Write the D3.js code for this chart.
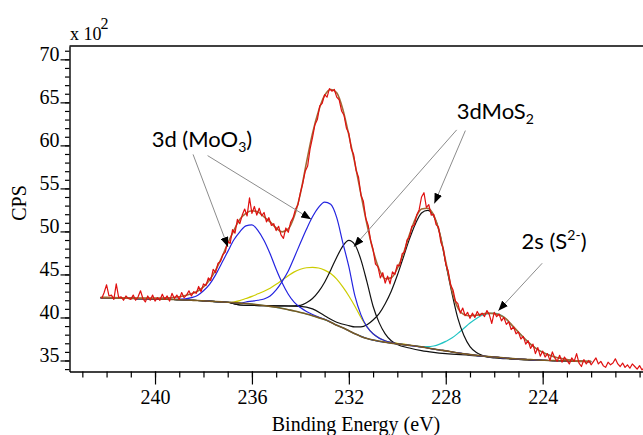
<!DOCTYPE html>
<html>
<head>
<meta charset="utf-8">
<script src="https://cdn.jsdelivr.net/npm/d3@7"></script>
<style>
  body { margin: 0; background: #fff; }
  svg { display: block; }
</style>
</head>
<body>
<svg id="chart" width="643" height="435"></svg>
<script>
// Mo 3d / S 2s XPS region, counts in units of 10^2 CPS

// Raw spectrum: first energy and step (eV), then counts
const rawStart = 242.2;
const rawStep = 0.1;
const rawCounts = [
  42.2, 42.9, 43.8, 42.5, 42.6, 42.1, 43.9, 42.3, 42.4, 42.0,
  42.5, 42.2, 42.1, 42.6, 42.0, 42.4, 43.1, 42.2, 41.8, 42.5,
  42.0, 42.6, 41.9, 42.3, 42.0, 42.7, 42.1, 42.5, 41.9, 42.8,
  42.2, 42.6, 42.1, 42.9, 42.3, 42.6, 43.1, 42.5, 43.0, 42.8,
  43.6, 43.0, 43.9, 43.7, 44.6, 44.3, 45.6, 45.2, 46.3, 46.5,
  47.3, 47.6, 48.9, 48.6, 50.2, 49.8, 51.4, 50.9, 51.9, 52.6,
  51.8, 53.9, 52.1, 52.9, 51.9, 52.7, 51.8, 52.2, 51.1, 51.6,
  50.7, 50.9, 50.1, 50.6, 49.6, 49.2, 50.4, 49.9, 51.1, 51.6,
  52.6, 53.1, 54.5, 55.6, 57.0, 57.6, 59.6, 60.9, 62.4, 63.0,
  64.6, 64.9, 65.9, 65.6, 66.6, 66.3, 66.5, 65.6, 65.3, 64.0,
  63.5, 62.0, 61.4, 59.6, 58.9, 57.1, 56.3, 54.2, 53.5, 51.5,
  50.7, 48.9, 47.9, 46.2, 45.9, 44.6, 45.2, 44.0, 44.8, 43.9,
  45.3, 45.0, 46.1, 46.0, 47.4, 47.6, 49.0, 49.3, 50.6, 50.7,
  51.9, 52.5, 54.0, 54.5, 52.8, 53.1, 51.9, 52.0, 50.8, 50.5,
  48.7, 48.0, 46.2, 45.4, 43.8, 43.2, 41.9, 41.6, 40.5, 41.1,
  40.2, 40.6, 39.9, 40.5, 40.0, 40.7, 40.2, 40.5, 40.1, 40.8,
  40.3, 39.3, 40.6, 40.1, 40.4, 39.6, 40.0, 39.2, 39.5, 38.6,
  38.9, 38.1, 38.3, 37.5, 37.8, 36.9, 37.3, 36.4, 36.9, 35.8,
  36.5, 35.5, 36.1, 35.4, 35.8, 35.0, 36.0, 35.3, 34.9, 35.6,
  34.8, 35.4, 35.0, 34.6, 35.3, 34.9, 35.8, 34.7, 34.3, 35.1,
  34.6, 35.0, 34.5, 34.9, 35.3, 34.6, 34.9, 34.4, 34.2, 34.8,
  34.5, 34.7, 35.2, 34.6, 34.3, 34.7, 34.2, 34.5, 34.1, 34.6,
  34.3, 34.0, 34.4, 33.9, 34.2
];

// Fit grid (eV) shared by the background and the envelope
const fitEnergy = d3.range(242.25, 221.99, -0.25);

// Shirley-type background
const background = [
  42.30, 42.28, 42.26, 42.25, 42.23, 42.22, 42.20, 42.19, 42.17, 42.15,
  42.13, 42.11, 42.09, 42.06, 42.03, 42.00, 41.97, 41.93, 41.89, 41.85,
  41.81, 41.77, 41.72, 41.67, 41.62, 41.56, 41.48, 41.39, 41.29, 41.18,
  41.05, 40.90, 40.75, 40.58, 40.40, 40.20, 39.98, 39.75, 39.45, 39.10,
  38.80, 38.45, 38.10, 37.80, 37.55, 37.37, 37.23, 37.12, 37.02, 36.93,
  36.84, 36.76, 36.68, 36.58, 36.45, 36.33, 36.22, 36.12, 36.00, 35.88,
  35.77, 35.68, 35.60, 35.52, 35.45, 35.40, 35.34, 35.28, 35.22, 35.17,
  35.13, 35.10, 35.06, 35.03, 35.00, 34.98, 34.97, 34.95, 34.93, 34.90,
  34.88, 34.87
];

// Fit envelope
const envelope = [
  42.35, 42.33, 42.31, 42.29, 42.28, 42.27, 42.26, 42.25, 42.25, 42.25,
  42.26, 42.28, 42.32, 42.40, 42.55, 42.75, 43.05, 43.55, 44.35, 45.50,
  46.95, 48.60, 50.10, 51.40, 52.10, 52.40, 52.25, 51.70, 51.10, 50.40,
  49.95, 50.30, 51.80, 54.40, 58.00, 61.40, 64.00, 65.80, 66.50, 66.10,
  64.20, 61.20, 57.90, 54.30, 50.80, 47.80, 45.60, 44.50, 44.60, 45.70,
  47.40, 49.60, 51.50, 52.60, 52.70, 51.90, 49.80, 46.50, 43.20, 41.10,
  40.35, 40.20, 40.25, 40.40, 40.50, 40.45, 40.25, 39.80, 39.05, 38.30,
  37.55, 36.90, 36.35, 35.95, 35.65, 35.40, 35.25, 35.10, 35.00, 34.95,
  34.92, 34.90
];

// Component curves [eV, counts] where they leave the background
const moO3Upper = [
  [239.0, 42.12], [238.75, 42.15], [238.5, 42.3], [238.25, 42.55], [238.0, 43.1],
  [237.75, 43.85], [237.5, 44.95], [237.25, 46.3], [237.0, 47.65], [236.75, 49.0],
  [236.5, 49.95], [236.25, 50.65], [236.0, 50.75], [235.75, 50.1], [235.5, 48.95],
  [235.25, 47.4], [235.0, 45.6], [234.75, 44.0], [234.5, 42.7], [234.25, 41.75],
  [234.0, 41.15], [233.75, 40.7], [233.5, 40.35], [233.25, 40.05], [233.0, 39.8]
];
const moO3Lower = [
  [236.25, 41.8], [236.0, 41.9], [235.75, 42.0], [235.5, 42.15], [235.25, 42.5],
  [235.0, 43.2], [234.75, 44.2], [234.5, 45.4], [234.25, 47.0], [234.0, 48.65],
  [233.75, 50.25], [233.5, 51.7], [233.25, 52.8], [233.0, 53.4], [232.75, 53.15],
  [232.5, 51.6], [232.25, 48.7], [232.0, 45.9], [231.75, 42.5], [231.5, 40.3],
  [231.25, 38.9], [231.0, 38.1], [230.75, 37.6], [230.5, 37.3], [230.25, 37.1]
];
const midState = [
  [236.75, 41.8], [236.5, 41.95], [236.25, 42.2], [236.0, 42.45], [235.75, 42.75],
  [235.5, 43.05], [235.25, 43.4], [235.0, 43.85], [234.75, 44.35], [234.5, 44.85],
  [234.25, 45.3], [234.0, 45.6], [233.75, 45.78], [233.5, 45.82], [233.25, 45.75],
  [233.0, 45.5], [232.75, 45.1], [232.5, 44.45], [232.25, 43.55], [232.0, 42.5],
  [231.75, 41.3], [231.5, 40.0], [231.25, 38.9], [231.0, 38.1], [230.75, 37.6],
  [230.5, 37.3], [230.25, 37.12], [230.0, 37.0], [229.75, 36.9], [229.5, 36.8]
];
const moS2Upper = [
  [236.75, 41.6], [236.5, 41.45], [236.0, 41.4], [235.5, 41.38], [235.0, 41.35],
  [234.5, 41.33], [234.0, 41.4], [233.75, 41.7], [233.5, 42.2], [233.25, 43.0],
  [233.0, 44.1], [232.75, 45.5], [232.5, 47.0], [232.25, 48.3], [232.0, 48.95],
  [231.75, 48.45], [231.5, 46.7], [231.25, 44.1], [231.0, 41.3], [230.75, 39.4],
  [230.5, 38.1], [230.25, 37.3], [230.0, 36.85], [229.5, 36.45], [229.0, 36.15],
  [228.5, 35.95], [228.0, 35.8], [227.0, 35.6], [226.0, 35.38], [225.0, 35.17]
];
const moS2Lower = [
  [236.75, 41.6], [236.5, 41.45], [236.0, 41.4], [235.0, 41.35], [234.0, 41.3],
  [233.5, 41.0], [233.0, 40.2], [232.5, 39.45], [232.0, 39.05], [231.75, 38.9],
  [231.5, 38.9], [231.25, 39.15], [231.0, 39.7], [230.75, 40.45], [230.5, 41.6],
  [230.25, 43.05], [230.0, 44.9], [229.75, 47.0], [229.5, 49.1], [229.25, 50.9],
  [229.0, 52.15], [228.75, 52.45], [228.5, 51.8], [228.25, 49.8], [228.0, 46.3],
  [227.75, 42.9], [227.5, 39.9], [227.25, 37.9], [227.0, 36.6], [226.75, 35.95],
  [226.5, 35.6], [226.25, 35.4], [226.0, 35.3], [225.5, 35.2], [225.0, 35.12],
  [224.0, 35.0]
];
const sulfur2s = [
  [229.5, 36.77], [229.0, 36.62], [228.75, 36.6], [228.5, 36.68], [228.25, 36.9],
  [228.0, 37.22], [227.75, 37.6], [227.5, 38.15], [227.25, 38.75], [227.0, 39.35],
  [226.75, 39.85], [226.5, 40.25], [226.25, 40.45], [226.0, 40.5], [225.75, 40.3],
  [225.5, 39.8], [225.25, 39.0], [225.0, 38.3], [224.75, 37.55], [224.5, 36.9],
  [224.25, 36.35], [224.0, 35.95], [223.75, 35.65], [223.5, 35.4], [223.25, 35.25],
  [223.0, 35.1], [222.75, 35.0], [222.5, 34.95], [222.25, 34.9], [222.0, 34.88]
];

// Axis ticks
const xMajorTicks = [240, 236, 232, 228, 224];
const xMinorTicks = d3.range(220, 244, 1);
const yMajorTicks = [35, 40, 45, 50, 55, 60, 65, 70];
const yMinorTicks = d3.range(34, 72, 1);

// Peak labels: text position and leader arrow tips, in (eV, counts)
const labels = [
  { parts: [["3d (MoO", 0], ["3", 1], [")", 0]], at: [240.14, 59.77],
    leaders: [[[238.43, 58.95], [236.99, 48.2]], [[237.83, 58.81], [233.56, 51.42]]] },
  { parts: [["3dMoS", 0], ["2", 1]], at: [227.55, 63.08],
    leaders: [[[227.55, 61.8], [231.79, 48.23]], [[227.19, 61.72], [228.47, 53.25]]] },
  { parts: [["2s (S", 0], ["2-", 2], [")", 0]], at: [224.87, 48.0],
    leaders: [[[224.02, 46.3], [225.83, 40.79]]] }
];

const svg = d3.select("#chart");
const plot = { left: 69.5, top: 46, right: 650, bottom: 371.5 };

const x = d3.scaleLinear().domain([243.53, 219.57]).range([plot.left, plot.right]);
const y = d3.scaleLinear().domain([33.72, 71.55]).range([plot.bottom, plot.top]);

svg.append("defs").append("clipPath").attr("id", "plotClip")
  .append("rect")
  .attr("x", plot.left).attr("y", plot.top)
  .attr("width", plot.right - plot.left).attr("height", plot.bottom - plot.top);

const marker = svg.select("defs").append("marker")
  .attr("id", "arrow")
  .attr("viewBox", "0 0 10 8")
  .attr("refX", 10).attr("refY", 4)
  .attr("markerWidth", 10).attr("markerHeight", 8)
  .attr("markerUnits", "userSpaceOnUse")
  .attr("orient", "auto");
marker.append("path").attr("d", "M0,0 L10,4 L0,8 Z").attr("fill", "#000");

const fitPoints = (vals) => fitEnergy.map((e, i) => [e, vals[i]]);
const bgPoints = fitPoints(background);

// A component follows the background outside its own window
function componentPoints(win) {
  const hi = win[0][0], lo = win[win.length - 1][0];
  return bgPoints.filter(p => p[0] > hi + 1e-6)
    .concat(win)
    .concat(bgPoints.filter(p => p[0] < lo - 1e-6));
}

const smooth = d3.line().x(d => x(d[0])).y(d => y(d[1])).curve(d3.curveMonotoneX);
const jagged = d3.line().x(d => x(d[0])).y(d => y(d[1]));

const g = svg.append("g").attr("clip-path", "url(#plotClip)");

const components = [
  { data: sulfur2s, color: "#22c4c4" },
  { data: midState, color: "#cccc00" },
  { data: moS2Upper, color: "#111111" },
  { data: moS2Lower, color: "#111111" },
  { data: moO3Upper, color: "#2424e0" },
  { data: moO3Lower, color: "#2424e0" }
];
components.forEach(c => {
  g.append("path")
    .attr("d", smooth(componentPoints(c.data)))
    .attr("fill", "none").attr("stroke", c.color).attr("stroke-width", 1.2);
});

g.append("path").attr("d", smooth(bgPoints))
  .attr("fill", "none").attr("stroke", "#7a5a22").attr("stroke-width", 1.6);

g.append("path").attr("d", smooth(fitPoints(envelope)))
  .attr("fill", "none").attr("stroke", "#a26a36").attr("stroke-width", 1.6);

const rawPoints = rawCounts.map((v, i) => [rawStart - i * rawStep, v]);
g.append("path").attr("d", jagged(rawPoints))
  .attr("fill", "none").attr("stroke", "#e01010").attr("stroke-width", 1.2)
  .attr("stroke-linejoin", "round");

// Frame and axes
const serif = "'Liberation Serif', 'Times New Roman', serif";

svg.append("line")
  .attr("x1", plot.left).attr("x2", plot.right)
  .attr("y1", plot.top).attr("y2", plot.top)
  .attr("stroke", "#000").attr("stroke-width", 1.4);

const xAxis = svg.append("g").attr("transform", `translate(0,${plot.bottom})`)
  .call(d3.axisBottom(x).tickValues(xMajorTicks).tickSize(13).tickPadding(5)
    .tickFormat(d3.format("d")).tickSizeOuter(0));
svg.append("g").attr("transform", `translate(0,${plot.bottom})`)
  .call(d3.axisBottom(x).tickValues(xMinorTicks).tickSize(6).tickFormat("").tickSizeOuter(0))
  .call(a => a.select(".domain").remove());

const yAxis = svg.append("g").attr("transform", `translate(${plot.left},0)`)
  .call(d3.axisLeft(y).tickValues(yMajorTicks).tickSize(9).tickPadding(1)
    .tickFormat(d3.format("d")).tickSizeOuter(0));
svg.append("g").attr("transform", `translate(${plot.left},0)`)
  .call(d3.axisLeft(y).tickValues(yMinorTicks).tickSize(4.5).tickFormat("").tickSizeOuter(0))
  .call(a => a.select(".domain").remove());

svg.selectAll(".domain").attr("stroke", "#000").attr("stroke-width", 1.4);
svg.selectAll(".tick line").attr("stroke", "#000").attr("stroke-width", 1.2);
xAxis.selectAll("text").attr("font-family", serif).attr("font-size", 20).attr("fill", "#000");
yAxis.selectAll("text").attr("font-family", serif).attr("font-size", 20).attr("fill", "#000")
  .attr("dy", "0.05em");

svg.append("text")
  .attr("x", 356).attr("y", 430.5)
  .attr("text-anchor", "middle")
  .attr("font-family", serif).attr("font-size", 20)
  .text("Binding Energy (eV)");

svg.append("text")
  .attr("transform", "translate(26,203) rotate(-90)")
  .attr("text-anchor", "middle")
  .attr("font-family", serif).attr("font-size", 20)
  .text("CPS");

const scaleNote = svg.append("text")
  .attr("x", 70).attr("y", 39.5)
  .attr("font-family", serif).attr("font-size", 18);
scaleNote.append("tspan").text("x 10");
scaleNote.append("tspan").attr("dy", -11).attr("dx", -1).attr("font-size", 16).text("2");

// Peak assignments with leader arrows
const sans = "Lato, 'Open Sans', sans-serif";
labels.forEach(lb => {
  lb.leaders.forEach(([from, to]) => {
    svg.append("line")
      .attr("x1", x(from[0])).attr("y1", y(from[1]))
      .attr("x2", x(to[0])).attr("y2", y(to[1]))
      .attr("stroke", "#8c8c8c").attr("stroke-width", 1)
      .attr("marker-end", "url(#arrow)");
  });
  const t = svg.append("text")
    .attr("x", x(lb.at[0])).attr("y", y(lb.at[1]))
    .attr("font-family", sans).attr("font-size", 22).attr("fill", "#000");
  lb.parts.forEach(([s, kind]) => {
    const span = t.append("tspan").text(s);
    if (kind === 1) span.attr("font-size", 14).attr("dy", 5);
    if (kind === 2) span.attr("font-size", 14).attr("dy", -9);
    if (kind === 0 && s !== lb.parts[0][0]) {
      // return to the main baseline after a sub/superscript
      span.attr("y", y(lb.at[1]));
    }
  });
});
</script>
</body>
</html>
